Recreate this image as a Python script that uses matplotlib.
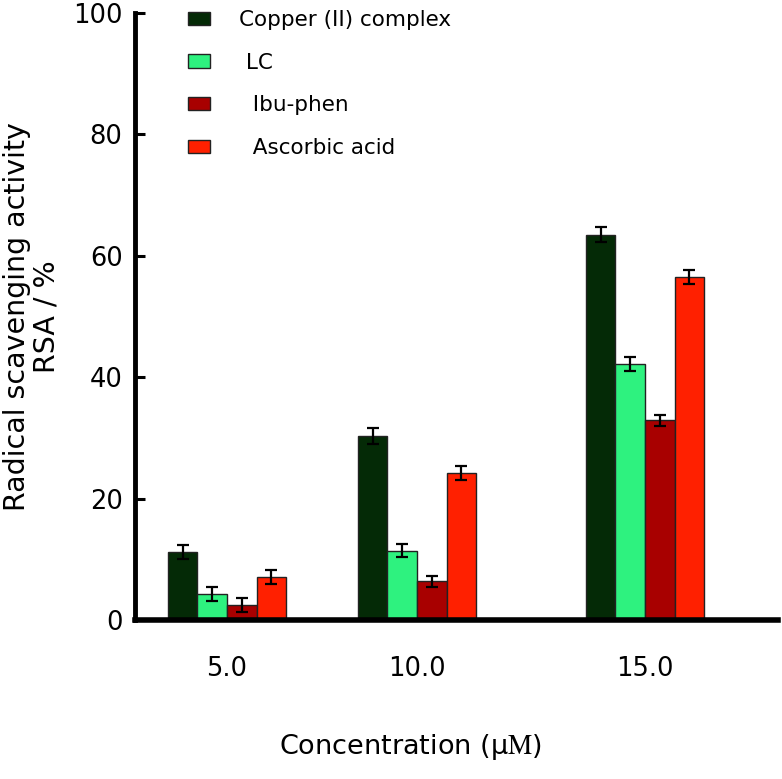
import numpy as np
import matplotlib
matplotlib.use('Agg')
import matplotlib.pyplot as plt

# Values
concentrations = ['5.0', '10.0', '15.0']
series = ['Copper (II) complex', ' LC', '  Ibu-phen', '  Ascorbic acid']
copper = [11.2, 30.3, 63.5]
lc = [4.3, 11.4, 42.2]
ibu = [2.5, 6.4, 32.9]
ascorbic = [7.1, 24.2, 56.5]
copper_err = [1.2, 1.3, 1.2]
lc_err = [1.2, 1.1, 1.1]
ibu_err = [1.1, 0.9, 0.9]
ascorbic_err = [1.2, 1.2, 1.2]

colors = ['#042a06', '#2ef27f', '#a80000', '#ff2000']
values = [copper, lc, ibu, ascorbic]
errors = [copper_err, lc_err, ibu_err, ascorbic_err]

plt.rcParams['mathtext.fontset'] = 'stix'

fig = plt.figure(figsize=(7.82, 7.79), dpi=100)
ax = fig.add_axes([135 / 782, 1 - 620 / 779, 643 / 782, 607 / 779])

group_pos = np.array([0, 1, 2.2])
width = 0.156
for i, (vals, errs) in enumerate(zip(values, errors)):
    x = group_pos + (i - 1.5) * width
    ax.bar(x, vals, width, color=colors[i], edgecolor='#222222', linewidth=1,
           label=series[i], zorder=2)
    ax.errorbar(x, vals, yerr=errs, fmt='none', ecolor='black', elinewidth=1.6,
                capsize=4, capthick=1.6, zorder=3)

ax.set_xlim(-0.484, 2.9)
ax.set_ylim(0, 100)
ax.set_xticks(group_pos)
ax.set_xticklabels(concentrations, fontsize=18.5)
ax.set_yticks([0, 20, 40, 60, 80, 100])
ax.tick_params(axis='x', length=0, pad=26)
ax.tick_params(axis='y', direction='in', length=7, width=2.2, labelsize=18.5, pad=9)

for side in ['top', 'right']:
    ax.spines[side].set_visible(False)
ax.spines['left'].set_linewidth(3.5)
ax.spines['bottom'].set_linewidth(4)

ax.set_xlabel('Concentration (μ$\\mathrm{M}$)', fontsize=19.5)
ax.xaxis.set_label_coords(0.428, -0.185)
ax.set_ylabel('Radical scavenging activity\nRSA / %', fontsize=20.5, labelpad=9,
              linespacing=1.05)

ax.legend(loc='upper left', bbox_to_anchor=((188 - 135) / 643, 1.005), frameon=False,
          fontsize=15.5, handlelength=1.0, handleheight=0.56, handletextpad=1.35,
          labelspacing=1.05, borderpad=0, borderaxespad=0)

fig.savefig('out.png', dpi=100)
